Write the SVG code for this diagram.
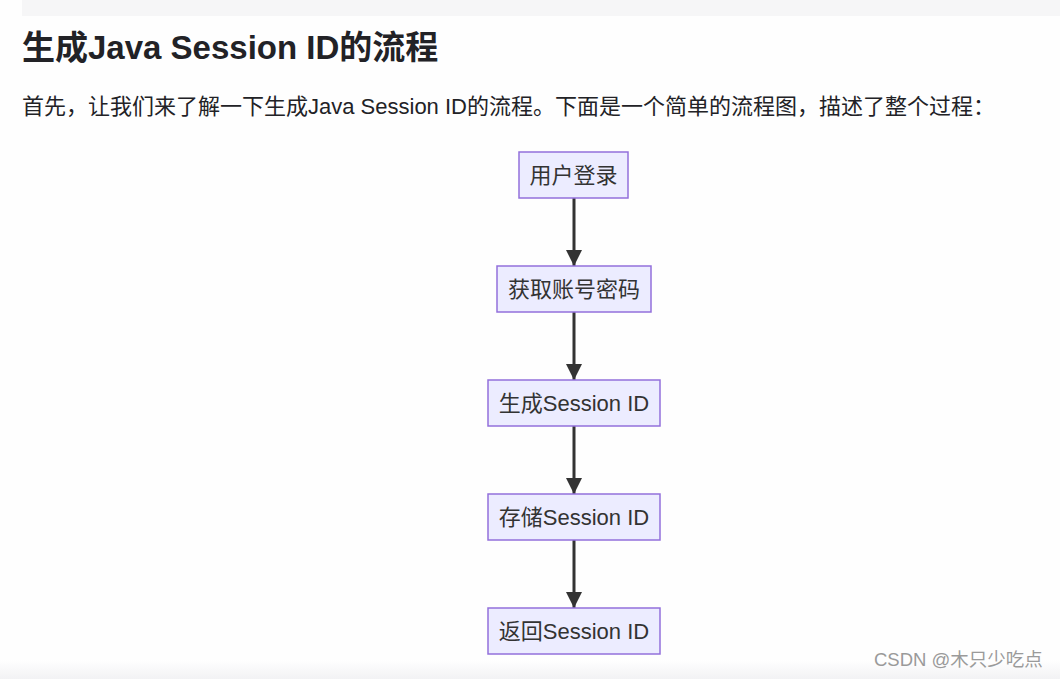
<svg xmlns="http://www.w3.org/2000/svg" width="1060" height="679" viewBox="0 0 1060 679">
  <style>
    .title { font-family: "Liberation Sans", "Noto Sans CJK SC", sans-serif; font-size: 33px; font-weight: bold; fill: #222226; }
    .para { font-family: "Liberation Sans", "Noto Sans CJK SC", sans-serif; font-size: 22px; fill: #222226; }
    .node rect { fill: #ECECFF; stroke: #9370DB; stroke-width: 1.5; }
    .node text { font-family: "Liberation Sans", "Noto Sans CJK SC", sans-serif; font-size: 22px; fill: #333333; text-anchor: middle; }
    .edge { stroke: #333333; stroke-width: 3; fill: none; }
    .wm { font-family: "Liberation Sans", "Noto Sans CJK SC", sans-serif; font-size: 18.5px; fill: #9a9a9a; }
  </style>
  <defs>
    <marker id="arrow" viewBox="0 0 10 10" refX="10" refY="5" markerWidth="5.5" markerHeight="5.5" markerUnits="strokeWidth" orient="auto">
      <path d="M0,0 L10,5 L0,10 z" fill="#333333"/>
    </marker>
    <linearGradient id="bottomBand" x1="0" y1="0" x2="0" y2="1">
      <stop offset="0" stop-color="#ffffff"/>
      <stop offset="1" stop-color="#f2f2f4"/>
    </linearGradient>
  </defs>
  <rect x="0" y="0" width="1060" height="679" fill="#fefefe"/>
  <rect x="22" y="0" width="1038" height="16" fill="#f6f6f7"/>
  <rect x="0" y="660" width="1060" height="19" fill="url(#bottomBand)"/>

  <text class="title" x="22" y="59">生成Java Session ID的流程</text>
  <text class="para" x="22" y="114">首先，让我们来了解一下生成Java Session ID的流程。下面是一个简单的流程图，描述了整个过程：</text>

  <g id="connectors">
    <line class="edge" x1="574" y1="198" x2="574" y2="266" marker-end="url(#arrow)"/>
    <line class="edge" x1="574" y1="312" x2="574" y2="380" marker-end="url(#arrow)"/>
    <line class="edge" x1="574" y1="426" x2="574" y2="494" marker-end="url(#arrow)"/>
    <line class="edge" x1="574" y1="540" x2="574" y2="608" marker-end="url(#arrow)"/>
  </g>

  <g id="node-login" class="node">
    <rect x="519" y="152" width="109" height="46"/>
    <text x="573.5" y="183">用户登录</text>
  </g>
  <g id="node-credentials" class="node">
    <rect x="497" y="266" width="154" height="46"/>
    <text x="574" y="297">获取账号密码</text>
  </g>
  <g id="node-generate" class="node">
    <rect x="488" y="380" width="172" height="46"/>
    <text x="574" y="411">生成Session ID</text>
  </g>
  <g id="node-store" class="node">
    <rect x="488" y="494" width="172" height="46"/>
    <text x="574" y="525">存储Session ID</text>
  </g>
  <g id="node-return" class="node">
    <rect x="488" y="608" width="172" height="46"/>
    <text x="574" y="639">返回Session ID</text>
  </g>

  <text class="wm" x="874" y="666">CSDN @木只少吃点</text>
</svg>
